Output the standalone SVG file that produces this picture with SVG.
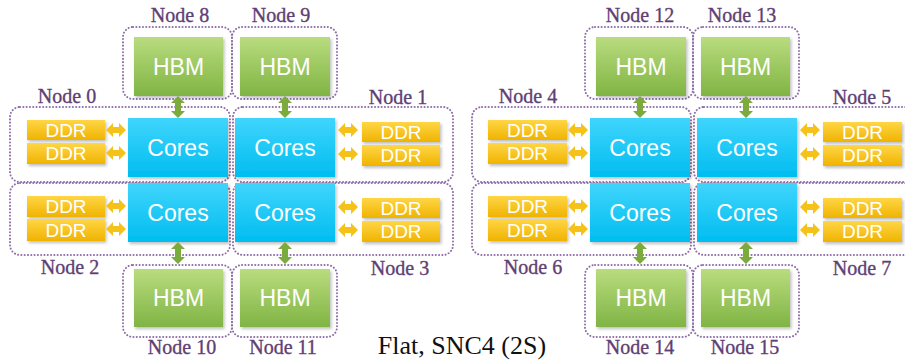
<svg xmlns="http://www.w3.org/2000/svg" xmlns:xlink="http://www.w3.org/1999/xlink" width="905" height="363" viewBox="0 0 905 363">
<defs>
<linearGradient id="gHbm" x1="0" y1="0" x2="0" y2="1"><stop offset="0" stop-color="#b9dc7e"/><stop offset="1" stop-color="#80b444"/></linearGradient>
<linearGradient id="gCores" x1="0" y1="0" x2="0" y2="1"><stop offset="0" stop-color="#40d5fc"/><stop offset="1" stop-color="#00bdf0"/></linearGradient>
<linearGradient id="gDdr" x1="0" y1="0" x2="0" y2="1"><stop offset="0" stop-color="#ffd646"/><stop offset="1" stop-color="#f0b300"/></linearGradient>
<filter id="sh" x="-10%" y="-10%" width="125%" height="130%"><feDropShadow dx="1.5" dy="2" stdDeviation="1.5" flood-color="#000" flood-opacity="0.25"/></filter>
<polygon id="ah" points="0,0 7,-7 7,-3 13,-3 13,-7 20,0 13,7 13,3 7,3 7,7" fill="#f5c21a"/>
<polygon id="av" points="0,0 -7,7 -3,7 -3,15 -7,15 0,22 7,15 3,15 3,7 7,7" fill="#7aab3c"/>
</defs>
<style>
.box{fill:none;stroke:#8f6fa8;stroke-width:2;stroke-dasharray:0.1 3.2;stroke-linecap:round}
.lbl{font-family:"Liberation Serif","Times New Roman",serif;font-size:20px;fill:#5f3f74;stroke:#5f3f74;stroke-width:0.35;text-anchor:middle}
.hbm{fill:url(#gHbm);filter:url(#sh)}
.cores{fill:url(#gCores);filter:url(#sh)}
.ddr{fill:url(#gDdr);filter:url(#sh)}
.t{font-family:"Liberation Sans",Arial,sans-serif;fill:#fff;text-anchor:middle}
.th{font-size:23px}
.tc{font-size:23px}
.td{font-size:19px}
.cap{font-family:"Liberation Serif","Times New Roman",serif;font-size:26px;fill:#111;text-anchor:middle}
</style>
<rect width="905" height="363" fill="#fff"/>

<!-- Left socket -->
<g id="node8"><rect class="box" x="123" y="27" width="109" height="72" rx="10"/><text class="lbl" x="180" y="22">Node 8</text><rect class="hbm" x="134" y="37" width="89" height="59"/><text class="t th" x="178.5" y="74.5">HBM</text></g>
<g id="node9"><rect class="box" x="232" y="27" width="105" height="72" rx="10"/><text class="lbl" x="281" y="22">Node 9</text><rect class="hbm" x="240" y="37" width="90" height="59"/><text class="t th" x="285" y="74.5">HBM</text></g>
<g id="node0"><rect class="box" x="10" y="107" width="220" height="75" rx="10"/><text class="lbl" x="67" y="103">Node 0</text><rect class="cores" x="128" y="118" width="100" height="59"/><text class="t tc" x="178" y="156">Cores</text><rect class="ddr" x="27" y="120" width="78" height="20"/><text class="t td" x="66" y="137">DDR</text><rect class="ddr" x="27" y="143" width="78" height="21"/><text class="t td" x="66" y="160">DDR</text></g>
<g id="node1"><rect class="box" x="233" y="107" width="220" height="75" rx="10"/><text class="lbl" x="398" y="104">Node 1</text><rect class="cores" x="235" y="118" width="100" height="59"/><text class="t tc" x="285" y="156">Cores</text><rect class="ddr" x="362" y="122" width="78" height="20"/><text class="t td" x="401" y="139">DDR</text><rect class="ddr" x="362" y="145" width="78" height="21"/><text class="t td" x="401" y="162">DDR</text></g>
<g id="node2"><rect class="box" x="10" y="183" width="220" height="72" rx="10"/><text class="lbl" x="70" y="274">Node 2</text><rect class="cores" x="128" y="183" width="100" height="59"/><text class="t tc" x="178" y="221">Cores</text><rect class="ddr" x="27" y="196" width="78" height="21"/><text class="t td" x="66" y="213">DDR</text><rect class="ddr" x="27" y="219" width="78" height="22"/><text class="t td" x="66" y="237">DDR</text></g>
<g id="node3"><rect class="box" x="233" y="183" width="220" height="72" rx="10"/><text class="lbl" x="400" y="275">Node 3</text><rect class="cores" x="235" y="183" width="100" height="59"/><text class="t tc" x="285" y="221">Cores</text><rect class="ddr" x="362" y="198" width="78" height="20"/><text class="t td" x="401" y="215">DDR</text><rect class="ddr" x="362" y="221" width="78" height="21"/><text class="t td" x="401" y="238">DDR</text></g>
<g id="node10"><rect class="box" x="123" y="265" width="109" height="72" rx="10"/><text class="lbl" x="182" y="354">Node 10</text><rect class="hbm" x="134" y="269" width="89" height="58"/><text class="t th" x="178.5" y="306">HBM</text></g>
<g id="node11"><rect class="box" x="232" y="265" width="105" height="72" rx="10"/><text class="lbl" x="283" y="354">Node 11</text><rect class="hbm" x="240" y="269" width="90" height="58"/><text class="t th" x="285" y="306">HBM</text></g>

<!-- Right socket -->
<g id="node12"><rect class="box" x="585" y="27" width="108" height="72" rx="10"/><text class="lbl" x="640" y="22">Node 12</text><rect class="hbm" x="596" y="37" width="90" height="59"/><text class="t th" x="641" y="74.5">HBM</text></g>
<g id="node13"><rect class="box" x="693" y="27" width="106" height="72" rx="10"/><text class="lbl" x="742" y="22">Node 13</text><rect class="hbm" x="701" y="37" width="89" height="59"/><text class="t th" x="745.5" y="74.5">HBM</text></g>
<g id="node4"><rect class="box" x="472" y="107" width="219" height="75" rx="10"/><text class="lbl" x="528" y="103">Node 4</text><rect class="cores" x="590" y="118" width="100" height="59"/><text class="t tc" x="640" y="156">Cores</text><rect class="ddr" x="488" y="120" width="79" height="20"/><text class="t td" x="527.5" y="137">DDR</text><rect class="ddr" x="488" y="143" width="79" height="21"/><text class="t td" x="527.5" y="160">DDR</text></g>
<g id="node5"><rect class="box" x="694" y="107" width="220" height="75" rx="10"/><text class="lbl" x="862" y="104">Node 5</text><rect class="cores" x="697" y="118" width="100" height="59"/><text class="t tc" x="747" y="156">Cores</text><rect class="ddr" x="823" y="122" width="79" height="20"/><text class="t td" x="862.5" y="139">DDR</text><rect class="ddr" x="823" y="145" width="79" height="21"/><text class="t td" x="862.5" y="162">DDR</text></g>
<g id="node6"><rect class="box" x="472" y="183" width="219" height="72" rx="10"/><text class="lbl" x="533" y="274">Node 6</text><rect class="cores" x="590" y="183" width="100" height="59"/><text class="t tc" x="640" y="221">Cores</text><rect class="ddr" x="488" y="196" width="79" height="21"/><text class="t td" x="527.5" y="213">DDR</text><rect class="ddr" x="488" y="219" width="79" height="22"/><text class="t td" x="527.5" y="237">DDR</text></g>
<g id="node7"><rect class="box" x="694" y="183" width="220" height="72" rx="10"/><text class="lbl" x="862" y="275">Node 7</text><rect class="cores" x="697" y="183" width="100" height="59"/><text class="t tc" x="747" y="221">Cores</text><rect class="ddr" x="823" y="198" width="79" height="20"/><text class="t td" x="862.5" y="215">DDR</text><rect class="ddr" x="823" y="221" width="79" height="21"/><text class="t td" x="862.5" y="238">DDR</text></g>
<g id="node14"><rect class="box" x="585" y="265" width="108" height="72" rx="10"/><text class="lbl" x="640" y="354">Node 14</text><rect class="hbm" x="596" y="269" width="90" height="58"/><text class="t th" x="641" y="306">HBM</text></g>
<g id="node15"><rect class="box" x="693" y="265" width="106" height="72" rx="10"/><text class="lbl" x="745" y="354">Node 15</text><rect class="hbm" x="701" y="269" width="89" height="58"/><text class="t th" x="745.5" y="306">HBM</text></g>

<g id="connectors">
<use xlink:href="#av" x="178" y="96"/>
<use xlink:href="#av" x="285" y="96"/>
<use xlink:href="#av" x="178" y="242"/>
<use xlink:href="#av" x="285" y="242"/>
<use xlink:href="#av" x="640" y="96"/>
<use xlink:href="#av" x="746" y="96"/>
<use xlink:href="#av" x="640" y="242"/>
<use xlink:href="#av" x="746" y="242"/>
<use xlink:href="#ah" x="106" y="130"/>
<use xlink:href="#ah" x="106" y="153"/>
<use xlink:href="#ah" x="106" y="206"/>
<use xlink:href="#ah" x="106" y="229"/>
<use xlink:href="#ah" x="338" y="130"/>
<use xlink:href="#ah" x="338" y="154"/>
<use xlink:href="#ah" x="338" y="207"/>
<use xlink:href="#ah" x="338" y="230"/>
<use xlink:href="#ah" x="568" y="130"/>
<use xlink:href="#ah" x="568" y="153"/>
<use xlink:href="#ah" x="568" y="206"/>
<use xlink:href="#ah" x="568" y="229"/>
<use xlink:href="#ah" x="800" y="130"/>
<use xlink:href="#ah" x="800" y="154"/>
<use xlink:href="#ah" x="800" y="207"/>
<use xlink:href="#ah" x="800" y="230"/>
</g>

<text class="cap" x="462" y="354">Flat, SNC4 (2S)</text>
</svg>
